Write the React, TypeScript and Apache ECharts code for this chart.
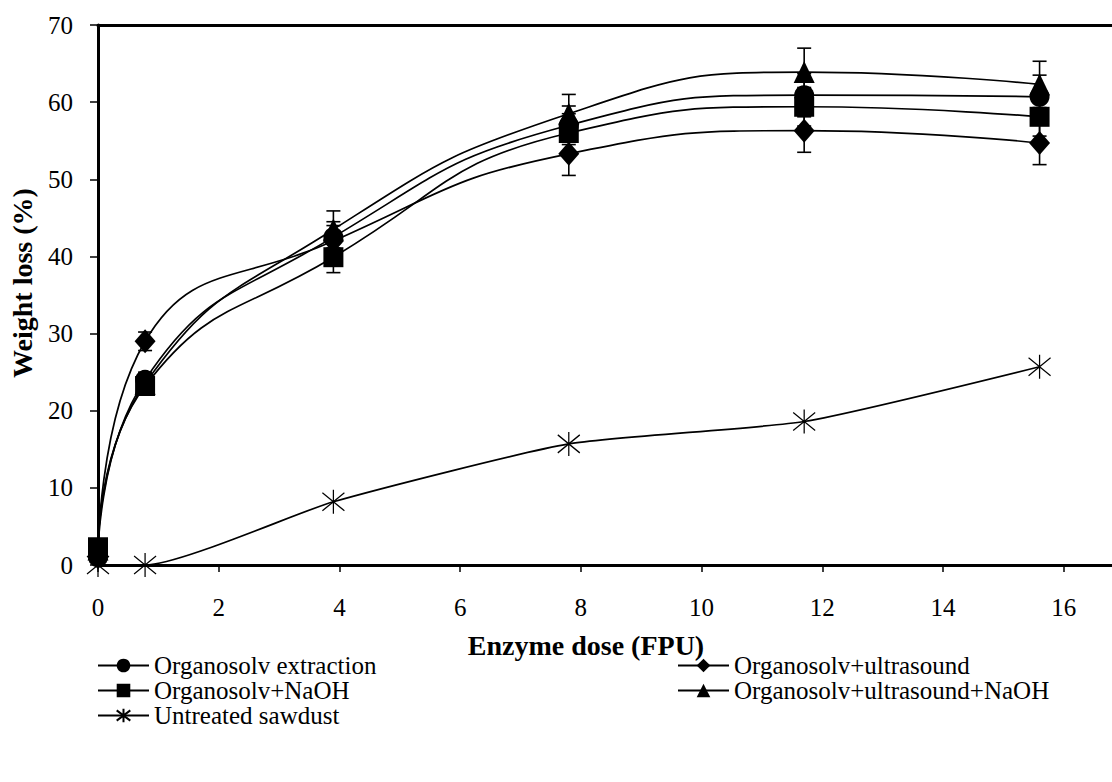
import { useEffect, useRef } from "react";
import * as echarts from "echarts";

// Enzyme dose (FPU) at which each sample was measured
const doses = [0, 0.78, 3.9, 7.8, 11.7, 15.6];

// Weight loss (%) per pretreatment
const organosolvExtraction = [1.0, 24.0, 42.5, 57.0, 60.9, 60.7];
const organosolvUltrasound = [1.0, 29.0, 42.0, 53.3, 56.3, 54.7];
const organosolvNaOH = [2.3, 23.2, 39.9, 56.0, 59.4, 58.1];
const organosolvUltrasoundNaOH = [2.0, 23.5, 43.5, 58.5, 63.9, 62.3];
const untreatedSawdust = [0, 0, 8.2, 15.7, 18.6, 25.7];

// Standard deviations (%)
const extractionErr = [0.5, 1.0, 2.0, 2.5, 2.8, 2.8];
const ultrasoundErr = [0.5, 1.2, 2.0, 2.8, 2.8, 2.8];
const naohErr = [0.5, 1.0, 2.0, 2.5, 2.5, 2.5];
const ultrasoundNaohErr = [0.5, 1.0, 2.4, 2.5, 3.1, 3.0];

const yTicks = [0, 10, 20, 30, 40, 50, 60, 70];
const xTicks = [0, 2, 4, 6, 8, 10, 12, 14, 16];

const FONT = "'Liberation Serif', 'Times New Roman', Times, serif";
const BLACK = "#000";

const asterisk = "path://M11,0L11,24M0,3L22,21M0,21L22,3";

const treated = [
  { name: "Organosolv extraction", values: organosolvExtraction, err: extractionErr, symbol: "circle", size: 20 },
  { name: "Organosolv+ultrasound", values: organosolvUltrasound, err: ultrasoundErr, symbol: "diamond", size: [21, 24] },
  { name: "Organosolv+NaOH", values: organosolvNaOH, err: naohErr, symbol: "rect", size: 20 },
  { name: "Organosolv+ultrasound+NaOH", values: organosolvUltrasoundNaOH, err: ultrasoundNaohErr, symbol: "triangle", size: [21, 22] },
];

function errorBars(values: number[], err: number[]) {
  return doses.map((d, i) => [d, values[i] - err[i], values[i] + err[i]]);
}

function renderErrorBar(_params: any, api: any) {
  const x = api.value(0);
  const lo = api.coord([x, api.value(1)]);
  const hi = api.coord([x, api.value(2)]);
  const half = 7;
  const style = { stroke: BLACK, lineWidth: 1.6 };
  return {
    type: "group",
    children: [
      { type: "line", shape: { x1: lo[0], y1: lo[1], x2: hi[0], y2: hi[1] }, style },
      { type: "line", shape: { x1: lo[0] - half, y1: lo[1], x2: lo[0] + half, y2: lo[1] }, style },
      { type: "line", shape: { x1: hi[0] - half, y1: hi[1], x2: hi[0] + half, y2: hi[1] }, style },
    ],
  };
}

export default function App() {
  const ref = useRef<HTMLDivElement>(null);

  useEffect(() => {
    const chart = echarts.init(ref.current!, null, { renderer: "svg" });

    const lineSeries: any[] = treated.map((s) => ({
      type: "line",
      name: s.name,
      data: doses.map((d, i) => [d, s.values[i]]),
      smooth: 0.5,
      symbol: s.symbol,
      symbolSize: s.size,
      lineStyle: { color: BLACK, width: 1.7 },
      itemStyle: { color: BLACK, borderWidth: 0 },
      z: 4,
    }));

    lineSeries.push({
      type: "line",
      name: "Untreated sawdust",
      data: doses.map((d, i) => [d, untreatedSawdust[i]]),
      smooth: 0.18,
      symbol: asterisk,
      symbolSize: [22, 24],
      lineStyle: { color: BLACK, width: 1.7 },
      itemStyle: { color: BLACK, borderColor: BLACK, borderWidth: 1.3 },
      z: 4,
    });

    const barSeries = treated.map((s) => ({
      type: "custom",
      name: s.name + " SD",
      data: errorBars(s.values, s.err),
      encode: { x: 0, y: [1, 2] },
      renderItem: renderErrorBar,
      silent: true,
      z: 3,
    }));

    const legendText = { fontFamily: FONT, fontSize: 25, color: BLACK };

    chart.setOption({
      animation: false,
      backgroundColor: "#fff",
      textStyle: { fontFamily: FONT },
      grid: { left: 94, right: 0, top: 25, bottom: 217, containLabel: false },
      xAxis: [
        {
          type: "value",
          min: xTicks[0],
          max: 16.8,
          interval: 2,
          axisLine: { show: true, onZero: false, lineStyle: { color: BLACK, width: 3 } },
          axisTick: { show: true, length: 7, lineStyle: { color: BLACK, width: 1.5 } },
          axisLabel: { showMaxLabel: false, color: BLACK, fontFamily: FONT, fontSize: 25, margin: 30 },
          splitLine: { show: false },
          name: "Enzyme dose (FPU)",
          nameLocation: "middle",
          nameGap: 66,
          nameTextStyle: {
            fontFamily: FONT,
            fontWeight: "bold",
            fontSize: 28,
            color: BLACK,
            padding: [0, 38, 0, 0],
          },
        },
        {
          type: "value",
          position: "top",
          min: xTicks[0],
          max: 16.8,
          axisLine: { show: true, onZero: false, lineStyle: { color: BLACK, width: 3 } },
          axisTick: { show: false },
          axisLabel: { show: false },
          splitLine: { show: false },
        },
      ],
      yAxis: {
        type: "value",
        min: yTicks[0],
        max: yTicks[yTicks.length - 1],
        interval: 10,
        axisLine: { show: true, onZero: false, lineStyle: { color: BLACK, width: 3 } },
        axisTick: { show: true, length: 8, lineStyle: { color: BLACK, width: 1.5 } },
        axisLabel: { color: BLACK, fontFamily: FONT, fontSize: 25, margin: 25 },
        splitLine: { show: false },
        name: "Weight loss (%)",
        nameLocation: "middle",
        nameGap: 62,
        nameTextStyle: {
          fontFamily: FONT,
          fontWeight: "bold",
          fontSize: 28,
          color: BLACK,
          padding: [0, 0, 0, 24],
        },
      },
      legend: [
        {
          orient: "vertical",
          left: 92,
          top: 648,
          itemGap: 0,
          itemWidth: 51,
          itemHeight: 17,
          textStyle: legendText,
          data: ["Organosolv extraction", "Organosolv+NaOH", "Untreated sawdust"],
        },
        {
          orient: "vertical",
          left: 672,
          top: 648,
          itemGap: 0,
          itemWidth: 51,
          itemHeight: 17,
          textStyle: legendText,
          data: ["Organosolv+ultrasound", "Organosolv+ultrasound+NaOH"],
        },
      ],
      series: [...barSeries, ...lineSeries],
    });

    return () => chart.dispose();
  }, []);

  return (
    <div
      ref={ref}
      style={{ position: "fixed", left: 0, top: 0, width: 1112, height: 782, background: "#fff" }}
    />
  );
}
